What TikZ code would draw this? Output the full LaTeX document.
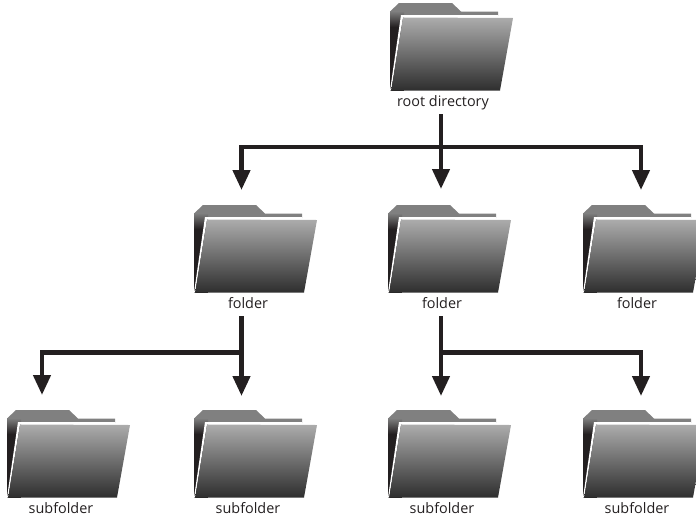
\documentclass[tikz,border=0pt]{standalone}
\usepackage{fontspec}
\setmainfont{Open Sans}
\usetikzlibrary{arrows.meta}
\definecolor{ink}{HTML}{231F20}
\definecolor{backtop}{HTML}{808080}
\definecolor{fronttop}{HTML}{ACACAC}
\definecolor{frontbot}{HTML}{2E2E2E}
\tikzset{
  x=1pt,y=-1pt,
  lbl/.style={font=\fontsize{14.4}{16}\selectfont,text=ink,inner sep=0pt,anchor=base},
  conn/.style={draw=ink,line width=4.4pt,line cap=butt,line join=miter},
  arr/.style={conn,-{Triangle[length=20pt,width=17pt]}},
}
\newcommand{\folder}[5]{% x y label name labeldx
\begin{scope}[shift={(#1,#2)}]
 \fill[ink] (0,20) -- (14,20) -- (14,87.5) -- (0,87.5) -- cycle;
 \fill[backtop] (0,8.5) -- (9,0) -- (62,0) -- (71,8.5) -- (108,8.5) -- (108,13) -- (0,13) -- cycle;
 \shade[top color=backtop,bottom color=ink] (0,8) rectangle (14,24);
 \fill[white] (11,12) -- (108,12) -- (108,14.5) -- (13,14.5) -- (1.2,87.5) -- (0,87.5) -- cycle;
 \shade[top color=fronttop,bottom color=frontbot] (13,14.5) -- (123,15) -- (110,87.5) -- (1.2,87.5) -- cycle;
 \node[lbl] (#4) at (#5,103) {#3};
\end{scope}}
\begin{document}
\begin{tikzpicture}
\useasboundingbox (0,0) rectangle (696,517);
\folder{390}{3}{root directory}{root}{53}
\folder{194}{205}{folder}{fa}{54}
\folder{388}{205}{folder}{fb}{54}
\folder{583}{205}{folder}{fc}{54}
\folder{7}{410}{subfolder}{sa}{54}
\folder{194}{410}{subfolder}{sb}{54}
\folder{388}{410}{subfolder}{sc}{54}
\folder{583}{410}{subfolder}{sd}{54}
\coordinate (rj) at (441,147);
\coordinate (ta) at (241.5,190);
\coordinate (tb) at (441,189);
\coordinate (tc) at (641,190);
\draw[conn] (441,114) -- (rj);
\draw[arr] (rj) -- (tb);
\draw[arr] (rj) -| (ta);
\draw[arr] (rj) -| (tc);
\coordinate (ja) at (241.5,352.5);
\coordinate (jb) at (441,352.5);
\draw[conn] (241.5,316) -- (ja);
\draw[arr] (ja) -- (241.5,396);
\draw[arr] (ja) -| (42,395);
\draw[conn] (441,316) -- (jb);
\draw[arr] (jb) -- (441,396);
\draw[arr] (jb) -| (641,396);
\end{tikzpicture}
\end{document}
